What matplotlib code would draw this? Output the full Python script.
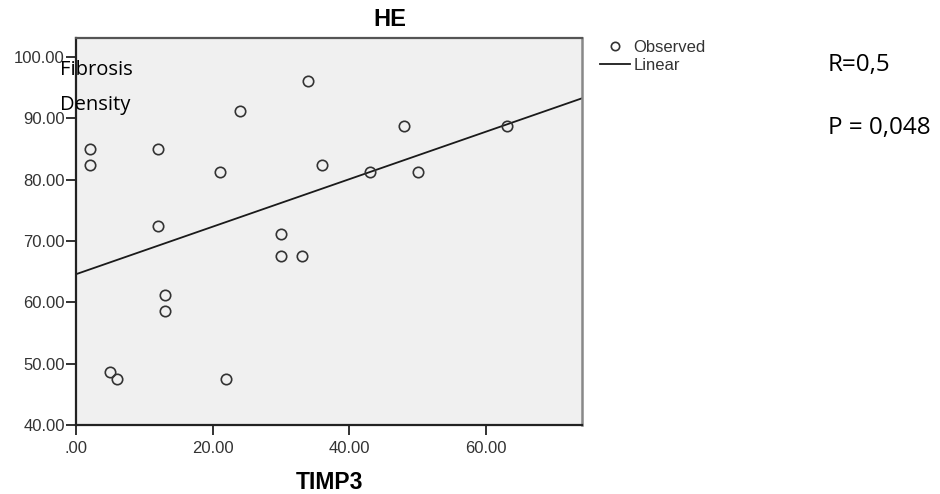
import numpy as np
import matplotlib.pyplot as plt
from matplotlib.lines import Line2D

# TIMP3 vs fibrosis density (HE)
timp3 = [2, 2, 12, 12, 21, 24, 34, 30, 48, 36, 43, 50, 63, 30, 33, 13, 13, 5, 6, 22]
density = [85.0, 82.4, 85.0, 72.4, 81.2, 91.2, 96.1, 71.2, 88.7, 82.4,
           81.2, 81.2, 88.7, 67.5, 67.5, 61.2, 58.6, 48.7, 47.5, 47.5]
xticks = [0, 20, 40, 60]
xlabels = ['.00', '20.00', '40.00', '60.00']
yticks = [40, 50, 60, 70, 80, 90, 100]
ylabels = ['%.2f' % v for v in yticks]

fig = plt.figure(figsize=(9.4, 4.94), dpi=100)
ax = fig.add_axes([0.0809, 0.1397, 0.619 - 0.0809, 0.923 - 0.1397])
ax.set_facecolor('#f0f0f0')

slope, icpt = np.polyfit(timp3, density, 1)
xl = np.array([0, 74])
ax.plot(xl, icpt + slope * xl, color='#1a1a1a', lw=1.3)
ax.plot(timp3, density, 'o', ms=7.5, mfc='none', mec='#333333', mew=1.2)

ax.set_xlim(0, 74)
ax.set_ylim(40, 103.1)
ax.set_xticks(xticks)
ax.set_xticklabels(xlabels)
ax.set_yticks(yticks)
ax.set_yticklabels(ylabels)
ax.tick_params(direction='out', length=7.5, width=1.3, colors='#222222',
               labelsize=12, labelcolor='#333333')
ax.tick_params(axis='y', pad=0.5)
ax.tick_params(axis='x', pad=4)
for lab in ax.get_xticklabels() + ax.get_yticklabels():
    lab.set_family('Liberation Sans')

for s in ['left', 'bottom']:
    ax.spines[s].set_color('#222222')
    ax.spines[s].set_linewidth(1.6)
ax.spines['top'].set_color('#555555')
ax.spines['top'].set_linewidth(1.6)
ax.spines['right'].set_color('#888888')
ax.spines['right'].set_linewidth(1.8)

fig.text(329 / 940, 1 - 482 / 494, 'TIMP3', fontsize=16.5, fontweight='bold',
         family='Liberation Sans', ha='center', va='center')
fig.text(390 / 940, 1 - 20 / 494, 'HE', fontsize=17, fontweight='bold',
         family='Liberation Sans', ha='center', va='center')

fig.text(60 / 940, 1 - 70 / 494, 'Fibrosis', fontsize=14.5, family='Open Sans', va='center')
fig.text(60 / 940, 1 - 105 / 494, 'Density', fontsize=14.5, family='Open Sans', va='center')

# legend outside right
handles = [Line2D([], [], ls='none', marker='o', ms=6, mfc='none', mec='#333333', mew=1.2),
           Line2D([], [], color='#1a1a1a', lw=1.3)]
leg = fig.legend(handles, ['Observed', 'Linear'], loc='upper left',
                 bbox_to_anchor=(600 / 940, 1 - 40 / 494), frameon=False,
                 prop={'family': 'Liberation Sans', 'size': 12},
                 handlelength=1.8, handletextpad=0.2, labelspacing=0.15,
                 borderpad=0, borderaxespad=0)
for t in leg.get_texts():
    t.set_color('#333333')

fig.text(828 / 940, 1 - 65 / 494, 'R=0,5', fontsize=17.5, family='Open Sans', va='center')
fig.text(828 / 940, 1 - 128 / 494, 'P = 0,048', fontsize=17.5, family='Open Sans', va='center')

fig.savefig('out.png', dpi=100)
